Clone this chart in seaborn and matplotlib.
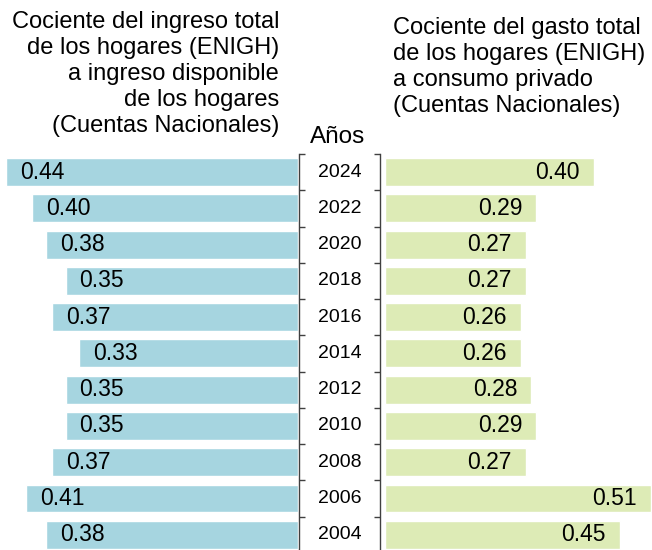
import pandas as pd
import matplotlib.pyplot as plt
import seaborn as sns

# Data
years = ['2024', '2022', '2020', '2018', '2016', '2014', '2012', '2010', '2008', '2006', '2004']
ingreso = [0.44, 0.40, 0.38, 0.35, 0.37, 0.33, 0.35, 0.35, 0.37, 0.41, 0.38]
gasto = [0.40, 0.29, 0.27, 0.27, 0.26, 0.26, 0.28, 0.29, 0.27, 0.51, 0.45]

left_title = 'Cociente del ingreso total\nde los hogares (ENIGH)\na ingreso disponible\nde los hogares\n(Cuentas Nacionales)'
right_title = 'Cociente del gasto total\nde los hogares (ENIGH)\na consumo privado\n(Cuentas Nacionales)'

df = pd.DataFrame({'year': years, 'ingreso': ingreso, 'gasto': gasto})

sns.set_style('white')
plt.rcParams['font.family'] = ['Liberation Sans', 'DejaVu Sans']
plt.rcParams['text.color'] = 'black'

W, H = 652, 550
fig = plt.figure(figsize=(W / 100, H / 100), dpi=100)

def px_axes(x0, x1, top, bottom=H):
    return fig.add_axes([x0 / W, 1 - bottom / H, (x1 - x0) / W, (bottom - top) / H])

top_px = 154
ylim = (10.42, -0.5)

# Left panel: bars grow to the left
ax_l = px_axes(0, 298, top_px)
sns.barplot(data=df, y='year', x='ingreso', order=years, orient='h',
            color='#A6D5E0', saturation=1, width=0.77, ax=ax_l)
ax_l.set_xlim(298 / 664, 0)
ax_l.set_ylim(*ylim)
ax_l.axis('off')
for i, v in enumerate(ingreso):
    ax_l.annotate(f'{v:.2f}', (v, i), xytext=(14, 0), textcoords='offset pixels',
                  ha='left', va='center', fontsize=16.5)

# Right panel: bars grow to the right
ax_r = px_axes(385, W, top_px)
sns.barplot(data=df, y='year', x='gasto', order=years, orient='h',
            color='#DDEBB6', saturation=1, width=0.77, ax=ax_r)
ax_r.set_xlim(0, 267 / 522)
ax_r.set_ylim(*ylim)
ax_r.axis('off')
for i, v in enumerate(gasto):
    ax_r.annotate(f'{v:.2f}', (v, i), xytext=(-14, 0), textcoords='offset pixels',
                  ha='right', va='center', fontsize=16.5)

# Middle year axis with bracket ticks
ax_m = px_axes(299, 380, top_px)
ax_m.set_xlim(0, 1)
ax_m.set_ylim(*ylim)
for s in ['top', 'bottom']:
    ax_m.spines[s].set_visible(False)
for s in ['left', 'right']:
    ax_m.spines[s].set_color('#404040')
    ax_m.spines[s].set_linewidth(1)
ax_m.set_xticks([])
ax_m.set_yticks([i - 0.5 for i in range(len(years))])
ax_m.tick_params(axis='y', direction='in', left=True, right=True, length=4.5,
                 width=1, color='#404040', labelleft=False)
for i, y in enumerate(years):
    ax_m.text(0.5, i, y, ha='center', va='center', fontsize=14)

# Titles
fig.text(279 / W, 1 - 11 / H, left_title, ha='right', va='top', fontsize=17,
         linespacing=1.24)
fig.text(393 / W, 1 - 17 / H, right_title, ha='left', va='top', fontsize=17,
         linespacing=1.24)
fig.text(338 / W, 1 - 137 / H, 'Años', ha='center', va='center', fontsize=17.5)

fig.savefig('out.png', dpi=100)
